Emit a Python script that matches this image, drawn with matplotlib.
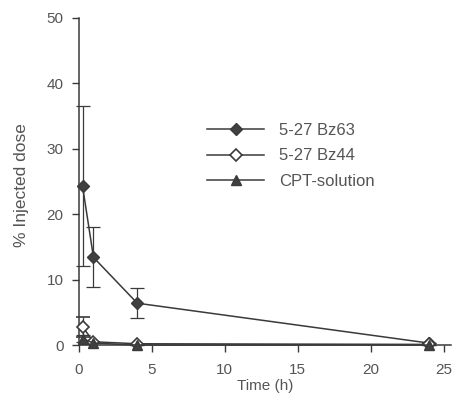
import numpy as np
import matplotlib
matplotlib.use("Agg")
import matplotlib.pyplot as plt

# sampling times (h)
time_h = [0.25, 1, 4, 24]

bz63 = [24.3, 13.4, 6.4, 0.3]
bz63_err = [12.2, 4.6, 2.3, 0.0]

bz44 = [2.8, 0.5, 0.2, 0.1]
bz44_err = [1.5, 0.0, 0.0, 0.0]

cpt = [1.0, 0.3, 0.0, 0.0]
cpt_err = [0.5, 0.0, 0.0, 0.0]

xticks = [0, 5, 10, 15, 20, 25]
yticks = [0, 10, 20, 30, 40, 50]

ink = "#3a3a3a"
txt = "#555555"

plt.rcParams["font.family"] = "Liberation Sans"

fig = plt.figure(figsize=(4.56, 3.98), dpi=100)
ax = fig.add_axes([0.173, 0.133, 0.816, 0.822])

common = dict(color=ink, lw=1.1, capsize=5, elinewidth=0.9, capthick=0.9,
              clip_on=False, zorder=3)
ax.errorbar(time_h, bz63, yerr=bz63_err, marker="D", ms=6.5, mfc="#404040",
            mec=ink, label="5-27 Bz63", **common)
ax.errorbar(time_h, bz44, yerr=bz44_err, marker="D", ms=6.5, mfc="white",
            mec=ink, mew=1.2, label="5-27 Bz44", **common)
ax.errorbar(time_h, cpt, yerr=cpt_err, marker="^", ms=7.5, mfc="#404040",
            mec=ink, label="CPT-solution", **common)

ax.set_xlim(0, 25.5)
ax.set_ylim(0, 50)
ax.set_xticks(xticks)
ax.set_yticks(yticks)

for s in ["top", "right"]:
    ax.spines[s].set_visible(False)
for s in ["left", "bottom"]:
    ax.spines[s].set_color(ink)
    ax.spines[s].set_linewidth(1.1)

ax.tick_params(direction="out", length=5, width=1, colors=ink,
               labelcolor=txt, labelsize=11)
ax.tick_params(axis="x", pad=8)
ax.tick_params(axis="y", pad=6)
ax.set_xlabel("Time (h)", fontsize=11, color=txt)
ax.set_ylabel("% Injected dose", fontsize=12.5, color=txt)
ax.xaxis.set_label_coords(0.5, -0.105)
ax.yaxis.set_label_coords(-0.135, 0.49)

handles, labels = ax.get_legend_handles_labels()
handles = [h[0] for h in handles]
ax.legend(handles, labels, loc="upper left", bbox_to_anchor=(0.345, 0.68),
          frameon=False, fontsize=12, labelcolor=txt, handlelength=3.4,
          handletextpad=0.9, labelspacing=0.65, borderpad=0,
          borderaxespad=0)

fig.savefig("out.png", dpi=100)
